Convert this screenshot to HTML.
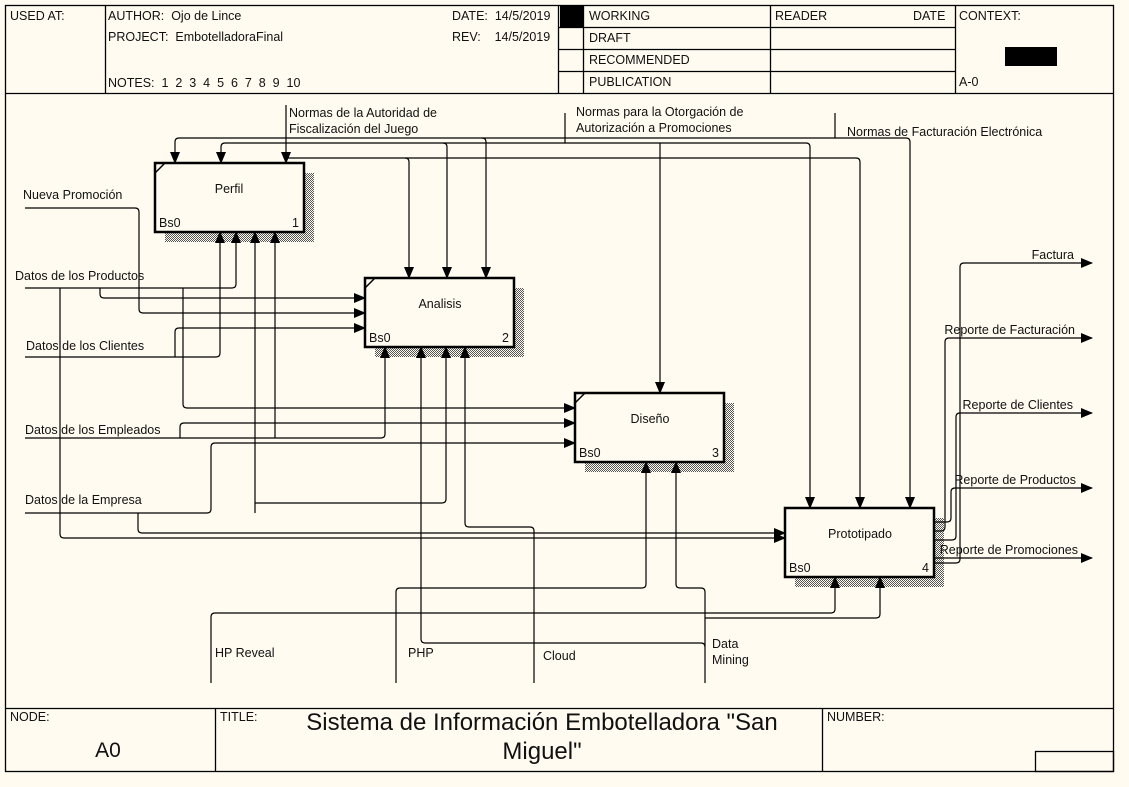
<!DOCTYPE html>
<html><head><meta charset="utf-8"><style>
html,body{margin:0;padding:0;background:#fffbf0;}
svg{display:block;font-family:"Liberation Sans",Arial,sans-serif;}
text{fill:#111;white-space:pre;}
</style></head><body>
<svg width="1129" height="787" viewBox="0 0 1129 787" xmlns="http://www.w3.org/2000/svg" xml:space="preserve">
<defs>
<pattern id="h" width="2" height="2" patternUnits="userSpaceOnUse"><rect width="2" height="2" fill="#fffbf0"/><rect width="1" height="1" fill="#555"/><rect x="1" y="1" width="1" height="1" fill="#555"/></pattern>
<marker id="a" markerWidth="12" markerHeight="10" refX="11" refY="5" orient="auto" markerUnits="userSpaceOnUse"><path d="M0,0 L12,5 L0,10 z" fill="#000"/></marker>
</defs>
<rect width="1129" height="787" fill="#fffbf0"/>
<g stroke="#000" fill="none" stroke-width="1.3">
<rect x="5.5" y="5.5" width="1108" height="766"/>
<line x1="5" y1="93.5" x2="1113" y2="93.5"/>
<line x1="105.5" y1="5" x2="105.5" y2="93"/>
<line x1="558.5" y1="5" x2="558.5" y2="93"/>
<line x1="583.5" y1="5" x2="583.5" y2="93"/>
<line x1="770.5" y1="5" x2="770.5" y2="93"/>
<line x1="955.5" y1="5" x2="955.5" y2="93"/>
<line x1="558" y1="27.5" x2="955" y2="27.5"/>
<line x1="558" y1="49.5" x2="955" y2="49.5"/>
<line x1="558" y1="71.5" x2="955" y2="71.5"/>
<line x1="5" y1="708.5" x2="1113" y2="708.5"/>
<line x1="215.5" y1="708" x2="215.5" y2="771"/>
<line x1="822.5" y1="708" x2="822.5" y2="771"/>
<rect x="1035.5" y="751.5" width="78" height="20"/>
</g>
<rect x="560" y="6" width="23" height="21" fill="#000"/>
<rect x="1005" y="47" width="52" height="19" fill="#000"/>
<g font-size="12.5">
<text x="10" y="20">USED AT:</text>
<text x="108" y="20">AUTHOR:  Ojo de Lince</text>
<text x="108" y="41">PROJECT:  EmbotelladoraFinal</text>
<text x="108" y="87">NOTES:  1  2  3  4  5  6  7  8  9  10</text>
<text x="452" y="20">DATE:  14/5/2019</text>
<text x="452" y="41">REV:    14/5/2019</text>
<text x="589" y="20">WORKING</text>
<text x="589" y="42">DRAFT</text>
<text x="589" y="64">RECOMMENDED</text>
<text x="589" y="86">PUBLICATION</text>
<text x="775" y="20">READER</text>
<text x="913" y="20">DATE</text>
<text x="959" y="20">CONTEXT:</text>
<text x="959" y="86">A-0</text>
<text x="10" y="721">NODE:</text>
<text x="220" y="721">TITLE:</text>
<text x="827" y="721">NUMBER:</text>
</g>
<text x="108" y="757" font-size="21" text-anchor="middle">A0</text>
<text x="542" y="730" font-size="24" text-anchor="middle">Sistema de Información Embotelladora "San</text>
<text x="542" y="759" font-size="24" text-anchor="middle">Miguel"</text>

<g fill="url(#h)">
<rect x="304" y="173" width="10" height="69"/><rect x="165" y="232" width="149" height="10"/>
<rect x="514" y="288" width="10" height="69"/><rect x="375" y="347" width="149" height="10"/>
<rect x="724" y="403" width="10" height="69"/><rect x="585" y="462" width="149" height="10"/>
<rect x="934" y="518" width="10" height="69"/><rect x="795" y="577" width="149" height="10"/>
</g>
<g stroke="#000" stroke-width="2.5" fill="#fffbf0">
<rect x="155" y="163" width="149" height="69"/>
<rect x="365" y="278" width="149" height="69"/>
<rect x="575" y="393" width="149" height="69"/>
<rect x="785" y="508" width="149" height="69"/>
</g>
<g stroke="#000" stroke-width="1.5">
<line x1="155" y1="173" x2="165" y2="163"/><line x1="365" y1="288" x2="375" y2="278"/><line x1="575" y1="403" x2="585" y2="393"/>
</g>
<g font-size="12.5">
<text x="229" y="193" text-anchor="middle">Perfil</text><text x="159" y="227">Bs0</text><text x="299" y="227" text-anchor="end">1</text>
<text x="440" y="308" text-anchor="middle">Analisis</text><text x="369" y="342">Bs0</text><text x="509" y="342" text-anchor="end">2</text>
<text x="650" y="423" text-anchor="middle">Diseño</text><text x="579" y="457">Bs0</text><text x="719" y="457" text-anchor="end">3</text>
<text x="860" y="538" text-anchor="middle">Prototipado</text><text x="789" y="572">Bs0</text><text x="929" y="572" text-anchor="end">4</text>
</g>

<g stroke="#000" stroke-width="1.2" fill="none">
<path d="M286,105 V158 H856 Q860,158 860,162 V508" marker-end="url(#a)"/>
<path d="M286,158 V163" marker-end="url(#a)"/>
<path d="M405,158 Q409,158 409,162 V278" marker-end="url(#a)"/>
<path d="M565,113 V143 H806 Q810,143 810,147 V508" marker-end="url(#a)"/>
<path d="M565,143 H225 Q221,143 221,147 V163" marker-end="url(#a)"/>
<path d="M443,143 Q447,143 447,147 V278" marker-end="url(#a)"/>
<path d="M660,143 V393" marker-end="url(#a)"/>
<path d="M835,113 V138 H906 Q910,138 910,142 V508" marker-end="url(#a)"/>
<path d="M835,138 H179 Q175,138 175,142 V163" marker-end="url(#a)"/>
<path d="M482,138 Q486,138 486,142 V278" marker-end="url(#a)"/>
<path d="M25,208 H135 Q139,208 139,212 V309 Q139,313 143,313 H365" marker-end="url(#a)"/>
<path d="M25,288 H232 Q236,288 236,284 V232" marker-end="url(#a)"/>
<path d="M60,288 V534 Q60,538 64,538 H785" marker-end="url(#a)"/>
<path d="M100,288 V294 Q100,298 104,298 H365" marker-end="url(#a)"/>
<path d="M183,288 V404 Q183,408 187,408 H575" marker-end="url(#a)"/>
<path d="M25,357 H216 Q220,357 220,353 V232" marker-end="url(#a)"/>
<path d="M175,357 V332 Q175,328 179,328 H365" marker-end="url(#a)"/>
<path d="M25,438 H381 Q385,438 385,434 V347" marker-end="url(#a)"/>
<path d="M180,438 V427 Q180,423 184,423 H575" marker-end="url(#a)"/>
<path d="M275,438 V232" marker-end="url(#a)"/>
<path d="M25,513 H207 Q211,513 211,509 V447 Q211,443 215,443 H575" marker-end="url(#a)"/>
<path d="M255,513 V232" marker-end="url(#a)"/>
<path d="M255,503 H442 Q446,503 446,499 V347" marker-end="url(#a)"/>
<path d="M138,513 V529 Q138,533 142,533 H785" marker-end="url(#a)"/>
<path d="M211,683 V617 Q211,613 215,613 H831 Q835,613 835,609 V577" marker-end="url(#a)"/>
<path d="M396,683 V592 Q396,588 400,588 H642 Q646,588 646,584 V462" marker-end="url(#a)"/>
<path d="M534,683 V531 Q534,527 530,527 H469 Q465,527 465,523 V347" marker-end="url(#a)"/>
<path d="M705,683 V647 Q705,643 701,643 H425 Q421,643 421,639 V347" marker-end="url(#a)"/>
<path d="M705,647 V592 Q705,588 701,588 H680 Q676,588 676,584 V462" marker-end="url(#a)"/>
<path d="M705,618 H876 Q880,618 880,614 V577" marker-end="url(#a)"/>
<path d="M934,558 H1092" marker-end="url(#a)"/>
<path d="M934,563 H956 Q960,563 960,559 V267 Q960,263 964,263 H1092" marker-end="url(#a)"/>
<path d="M934,531 H941 Q945,531 945,527 V342 Q945,338 949,338 H1092" marker-end="url(#a)"/>
<path d="M934,540 H952 Q956,540 956,536 V417 Q956,413 960,413 H1092" marker-end="url(#a)"/>
<path d="M934,522 H947 Q951,522 951,518 V492 Q951,488 955,488 H1092" marker-end="url(#a)"/>
</g>
<g font-size="12.5">
<text x="289" y="117">Normas de la Autoridad de</text>
<text x="289" y="133">Fiscalización del Juego</text>
<text x="576" y="116">Normas para la Otorgación de</text>
<text x="576" y="132">Autorización a Promociones</text>
<text x="847" y="136">Normas de Facturación Electrónica</text>
<text x="23" y="199">Nueva Promoción</text>
<text x="15" y="280">Datos de los Productos</text>
<text x="26" y="350">Datos de los Clientes</text>
<text x="25" y="434">Datos de los Empleados</text>
<text x="25" y="504">Datos de la Empresa</text>
<text x="215" y="657">HP Reveal</text>
<text x="408" y="657">PHP</text>
<text x="543" y="660">Cloud</text>
<text x="712" y="648">Data</text>
<text x="712" y="664">Mining</text>
<text x="1074" y="259" text-anchor="end">Factura</text>
<text x="1075" y="334" text-anchor="end">Reporte de Facturación</text>
<text x="1073" y="409" text-anchor="end">Reporte de Clientes</text>
<text x="1076" y="484" text-anchor="end">Reporte de Productos</text>
<text x="1078" y="554" text-anchor="end">Reporte de Promociones</text>
</g>
</svg>
</body></html>
